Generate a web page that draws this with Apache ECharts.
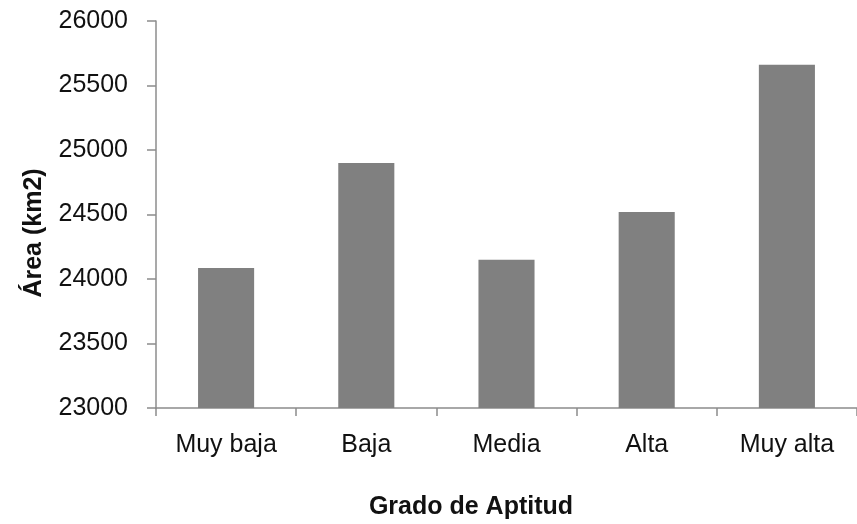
<!DOCTYPE html>
<html>
<head>
<meta charset="utf-8">
<title>Grado de Aptitud</title>
<script src="https://cdn.jsdelivr.net/npm/echarts@6/dist/echarts.min.js"></script>
<style>
  html, body { margin: 0; padding: 0; background: #fff; }
  #chart { width: 857px; height: 524px; }
</style>
</head>
<body>
<div id="chart"></div>
<script>
// categorías y valores (km2)
const categories = ['Muy baja', 'Baja', 'Media', 'Alta', 'Muy alta']
const areaValues = [24085, 24900, 24150, 24520, 25660]
const yTitle = 'Área (km2)'
const xTitle = 'Grado de Aptitud'

const font = '"Liberation Sans", Arial, sans-serif'
const axisColor = '#8c8c8c'

const chart = echarts.init(document.getElementById('chart'))
chart.setOption({
  animation: false,
  textStyle: { fontFamily: font },
  grid: {
    left: 156,
    width: 709,
    top: 21,
    bottom: 116,
    containLabel: false
  },
  xAxis: {
    type: 'category',
    data: categories,
    axisLine: { lineStyle: { color: axisColor, width: 1.5 } },
    axisTick: { show: true, length: 8, lineStyle: { color: axisColor, width: 1.5 } },
    axisLabel: {
      color: '#111',
      fontSize: 25,
      fontFamily: font,
      margin: 25,
      interval: 0
    }
  },
  yAxis: {
    type: 'value',
    min: 23000,
    max: 26000,
    interval: 500,
    axisLine: { show: true, lineStyle: { color: axisColor, width: 1.5 } },
    axisTick: { show: true, length: 9, lineStyle: { color: axisColor, width: 1.5 } },
    splitLine: { show: false },
    axisLabel: {
      color: '#111',
      fontSize: 25,
      fontFamily: font,
      margin: 28,
      padding: [6, 0, 0, 0],
      formatter: v => String(v)
    }
  },
  series: [{
    type: 'bar',
    data: areaValues,
    barWidth: '40%',
    itemStyle: { color: '#808080' }
  }],
  graphic: [
    {
      // título eje Y
      type: 'text',
      x: 34,
      y: 233,
      rotation: Math.PI / 2,
      style: {
        text: yTitle,
        font: 'bold 25px ' + font,
        fill: '#111',
        textAlign: 'center',
        textVerticalAlign: 'middle'
      }
    },
    {
      // título eje X
      type: 'text',
      x: 471,
      y: 507,
      style: {
        text: xTitle,
        font: 'bold 25px ' + font,
        fill: '#111',
        textAlign: 'center',
        textVerticalAlign: 'middle'
      }
    }
  ]
})
</script>
</body>
</html>
